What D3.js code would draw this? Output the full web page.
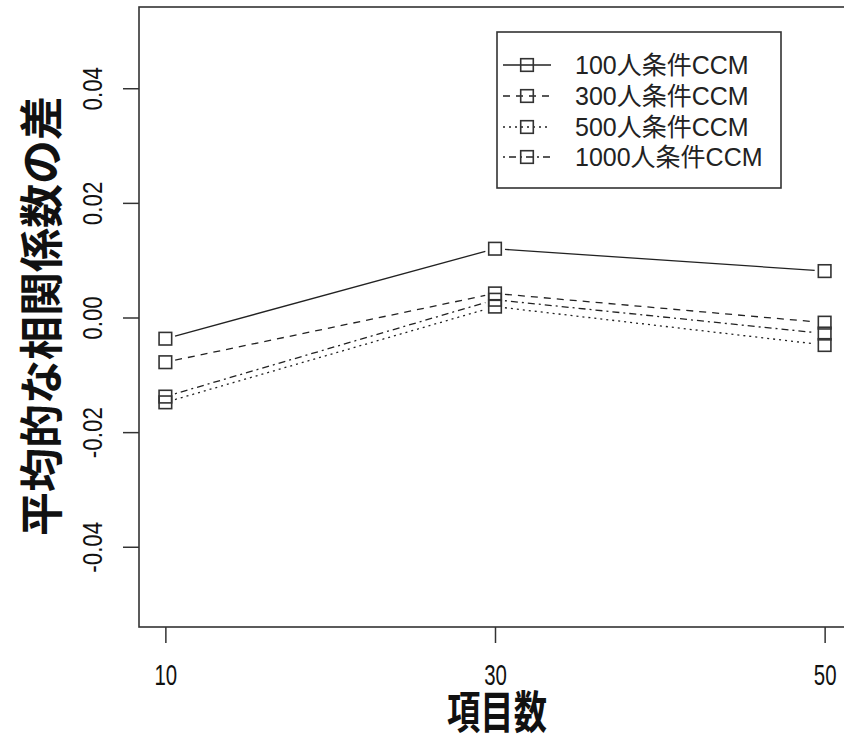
<!DOCTYPE html>
<html>
<head>
<meta charset="utf-8">
<script src="https://cdn.jsdelivr.net/npm/d3@7/dist/d3.min.js"></script>
<style>
  html, body { margin: 0; padding: 0; background: #fff; }
  svg { display: block; }
  text { font-family: "Liberation Sans", Arial, "Noto Sans CJK JP", sans-serif; fill: #111; }
</style>
</head>
<body>
<svg id="chart" width="844" height="742"></svg>
<script>
// Number of items on the x axis
const items = [10, 30, 50];

// Mean correlation difference for each sample-size condition
const seriesNames = ["100人条件CCM", "300人条件CCM", "500人条件CCM", "1000人条件CCM"];
const ccm100  = [-0.0037, 0.0120, 0.0081];
const ccm300  = [-0.0078, 0.0042, -0.0009];
const ccm500  = [-0.0148, 0.0019, -0.0048];
const ccm1000 = [-0.0138, 0.0031, -0.0028];

const yTicks = [-0.04, -0.02, 0.00, 0.02, 0.04];
const yLabels = ["-0.04", "-0.02", "0.00", "0.02", "0.04"];
const xLabels = ["10", "30", "50"];

const xTitle = "項目数";
const yTitle = "平均的な相関係数の差";

const series = [ccm100, ccm300, ccm500, ccm1000];
const dashes = [null, "7,6", "2,4", "2,4,7,4"];

const svg = d3.select("#chart");

// Plot region (box extends slightly beyond the right edge)
const plotL = 139, plotR = 851, plotT = 7, plotB = 627;

const x = d3.scaleLinear().domain([8.4, 51.6]).range([plotL, plotR]);
const y = d3.scaleLinear().domain([-0.054, 0.054]).range([plotB, plotT + 1]);

// Frame
svg.append("rect")
  .attr("x", plotL).attr("y", plotT)
  .attr("width", plotR - plotL).attr("height", plotB - plotT)
  .attr("fill", "none").attr("stroke", "#333").attr("stroke-width", 1.6);

// Y axis
const yAxis = svg.append("g")
  .attr("transform", `translate(${plotL},0)`)
  .call(d3.axisLeft(y).tickValues(yTicks).tickSize(16).tickFormat((d, i) => yLabels[i]));
yAxis.select(".domain").remove();
yAxis.selectAll(".tick line").attr("stroke", "#333").attr("stroke-width", 1.5);
yAxis.selectAll(".tick text")
  .attr("x", null).attr("dy", null)
  .attr("text-anchor", "middle")
  .attr("font-size", 28)
  .attr("transform", "translate(-37,0) rotate(-90) scale(0.8,1)")
  .style("font-family", "'Liberation Sans', Arial, sans-serif")
  .style("fill", "#111");

// X axis
const xAxis = svg.append("g")
  .attr("transform", `translate(0,${plotB})`)
  .call(d3.axisBottom(x).tickValues(items).tickSize(16).tickFormat((d, i) => xLabels[i]));
xAxis.select(".domain").remove();
xAxis.selectAll(".tick line").attr("stroke", "#333").attr("stroke-width", 1.5);
xAxis.selectAll(".tick text")
  .attr("y", null).attr("dy", null)
  .attr("text-anchor", "middle")
  .attr("font-size", 30)
  .attr("transform", "translate(0,58) scale(0.68,1)")
  .style("font-family", "'Liberation Sans', Arial, sans-serif")
  .style("fill", "#111");

// Axis titles
svg.append("text")
  .attr("transform", `translate(497,729) scale(0.74,1)`)
  .attr("text-anchor", "middle")
  .attr("font-size", 45).attr("font-weight", "bold")
  .text(xTitle);

svg.append("text")
  .attr("transform", `translate(58,316) rotate(-90)`)
  .attr("text-anchor", "middle")
  .attr("font-size", 44).attr("font-weight", "bold")
  .text(yTitle);

// Series: lines broken around the square markers
const gap = 10, half = 6.3;
series.forEach((vals, s) => {
  const pts = items.map((d, i) => [x(d), y(vals[i])]);
  const g = svg.append("g");
  for (let i = 0; i < pts.length - 1; i++) {
    const [x0, y0] = pts[i], [x1, y1] = pts[i + 1];
    const len = Math.hypot(x1 - x0, y1 - y0);
    const ux = (x1 - x0) / len, uy = (y1 - y0) / len;
    g.append("line")
      .attr("x1", x0 + ux * gap).attr("y1", y0 + uy * gap)
      .attr("x2", x1 - ux * gap).attr("y2", y1 - uy * gap)
      .attr("stroke", "#222").attr("stroke-width", 1.3)
      .attr("stroke-dasharray", dashes[s]);
  }
  g.selectAll("rect").data(pts).join("rect")
    .attr("x", d => d[0] - half).attr("y", d => d[1] - half)
    .attr("width", half * 2).attr("height", half * 2)
    .attr("fill", "none").attr("stroke", "#333").attr("stroke-width", 1.6);
});

// Legend
const lg = svg.append("g");
lg.append("rect")
  .attr("x", 497).attr("y", 32).attr("width", 284).attr("height", 156)
  .attr("fill", "#fff").attr("stroke", "#333").attr("stroke-width", 1.6);
const rowY = [65, 96, 127, 157];
seriesNames.forEach((name, s) => {
  const yy = rowY[s];
  lg.append("line")
    .attr("x1", 503).attr("x2", 551).attr("y1", yy).attr("y2", yy)
    .attr("stroke", "#222").attr("stroke-width", 1.3)
    .attr("stroke-dasharray", dashes[s]);
  lg.append("rect")
    .attr("x", 527 - half).attr("y", yy - half)
    .attr("width", half * 2).attr("height", half * 2)
    .attr("fill", "none").attr("stroke", "#333").attr("stroke-width", 1.6);
  lg.append("text")
    .attr("x", 575).attr("y", yy + 9)
    .attr("font-size", 25)
    .style("fill", "#222")
    .text(name);
});
</script>
</body>
</html>
